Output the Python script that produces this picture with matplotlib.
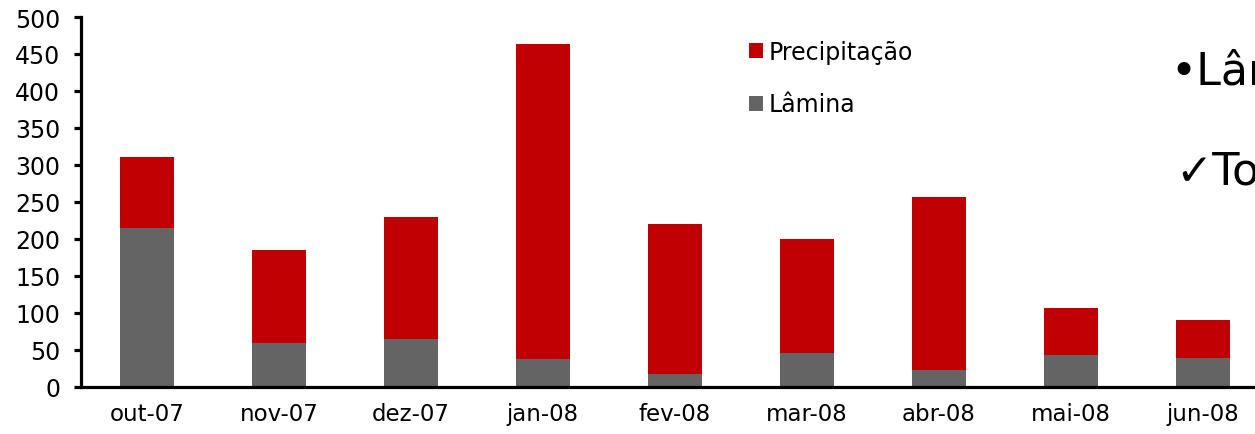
import matplotlib
matplotlib.use("Agg")
import matplotlib.pyplot as plt
import numpy as np

# Monthly data (mm)
months = ["out-07", "nov-07", "dez-07", "jan-08", "fev-08",
          "mar-08", "abr-08", "mai-08", "jun-08"]
lamina = [215, 59, 64, 37, 17, 46, 22, 43, 38]
precipitacao = [95, 126, 166, 426, 203, 154, 235, 63, 52]
yticks = list(range(0, 501, 50))

RED = "#C00000"
GRAY = "#646464"
FONT = "DejaVu Sans"

plt.rcParams["font.family"] = [FONT]

W, H = 1255, 435
fig = plt.figure(figsize=(W / 100, H / 100), dpi=100)
fig.patch.set_facecolor("white")

# Axes spans past the right edge of the figure (chart is cropped there)
left, bottom, top = 81, 47.5, 18
width = 132 * len(months)
ax = fig.add_axes([left / W, bottom / H, width / W, (H - bottom - top) / H])

x = np.arange(len(months))
bw = 0.405
b_lam = ax.bar(x, lamina, width=bw, color=GRAY, label="Lâmina")
b_pre = ax.bar(x, precipitacao, width=bw, bottom=lamina, color=RED,
               label="Precipitação")

ax.set_xlim(-0.5, len(months) - 0.5)
ax.set_ylim(0, 500)
ax.set_yticks(yticks)
ax.set_xticks(x)
ax.set_xticklabels(months)

for s in ("top", "right"):
    ax.spines[s].set_visible(False)
for s in ("left", "bottom"):
    ax.spines[s].set_linewidth(2.3)
    ax.spines[s].set_color("black")

ax.tick_params(axis="y", direction="out", length=5, width=2.3,
               labelsize=17, pad=10, colors="black")
ax.tick_params(axis="x", length=0, labelsize=16.5, pad=11, colors="black")

# Legend (Precipitação listed first)
fig.legend([b_pre, b_lam], ["Precipitação", "Lâmina"],
           loc="upper left", bbox_to_anchor=(749 / W, 1 - 41 / H),
           bbox_transform=fig.transFigure, frameon=False,
           fontsize=17, handlelength=0.6, handleheight=0.6,
           handletextpad=0.25, labelspacing=1.2, borderpad=0,
           borderaxespad=0)

# Slide text on the right margin
fig.text(1170 / W, 1 - 72 / H, "•Lâmina", fontsize=32, color="black",
         va="center", ha="left")
fig.text(1175 / W, 1 - 172 / H, "✓Total", fontsize=32, color="black",
         va="center", ha="left")

fig.savefig("out.png", dpi=100, facecolor="white")
